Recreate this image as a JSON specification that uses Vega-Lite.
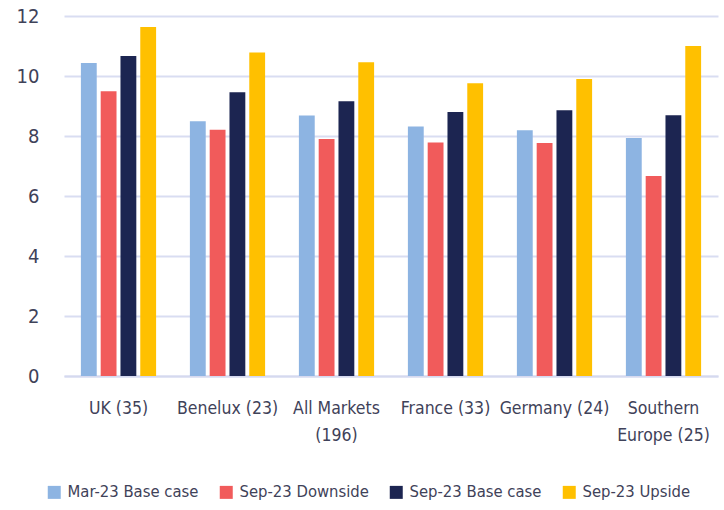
{
  "$schema": "https://vega.github.io/schema/vega-lite/v6.json",
  "width": 654,
  "height": 360,
  "autosize": {"type": "none"},
  "padding": {"left": 64, "top": 16, "right": 6, "bottom": 134},
  "background": "white",
  "config": {
    "view": {"stroke": null},
    "font": "Liberation Sans Narrow, DejaVu Sans Condensed, sans-serif"
  },
  "data": {
    "values": [
      {"region": "UK (35)", "series": "Mar-23 Base case", "value": 10.43},
      {"region": "UK (35)", "series": "Sep-23 Downside", "value": 9.49},
      {"region": "UK (35)", "series": "Sep-23 Base case", "value": 10.67},
      {"region": "UK (35)", "series": "Sep-23 Upside", "value": 11.63},
      {"region": "Benelux (23)", "series": "Mar-23 Base case", "value": 8.49},
      {"region": "Benelux (23)", "series": "Sep-23 Downside", "value": 8.21},
      {"region": "Benelux (23)", "series": "Sep-23 Base case", "value": 9.46},
      {"region": "Benelux (23)", "series": "Sep-23 Upside", "value": 10.78},
      {"region": "All Markets (196)", "series": "Mar-23 Base case", "value": 8.68},
      {"region": "All Markets (196)", "series": "Sep-23 Downside", "value": 7.9},
      {"region": "All Markets (196)", "series": "Sep-23 Base case", "value": 9.16},
      {"region": "All Markets (196)", "series": "Sep-23 Upside", "value": 10.46},
      {"region": "France (33)", "series": "Mar-23 Base case", "value": 8.32},
      {"region": "France (33)", "series": "Sep-23 Downside", "value": 7.78},
      {"region": "France (33)", "series": "Sep-23 Base case", "value": 8.8},
      {"region": "France (33)", "series": "Sep-23 Upside", "value": 9.76},
      {"region": "Germany (24)", "series": "Mar-23 Base case", "value": 8.19},
      {"region": "Germany (24)", "series": "Sep-23 Downside", "value": 7.77},
      {"region": "Germany (24)", "series": "Sep-23 Base case", "value": 8.86},
      {"region": "Germany (24)", "series": "Sep-23 Upside", "value": 9.9},
      {"region": "Southern Europe (25)", "series": "Mar-23 Base case", "value": 7.93},
      {"region": "Southern Europe (25)", "series": "Sep-23 Downside", "value": 6.67},
      {"region": "Southern Europe (25)", "series": "Sep-23 Base case", "value": 8.69},
      {"region": "Southern Europe (25)", "series": "Sep-23 Upside", "value": 11.0}
    ]
  },
  "mark": {"type": "bar"},
  "encoding": {
    "x": {
      "field": "region",
      "type": "nominal",
      "sort": null,
      "scale": {"paddingInner": 0.31, "paddingOuter": 0.155},
      "axis": {
        "title": null,
        "labelAngle": 0,
        "labelFontSize": 17.5,
        "labelColor": "#3f4259",
        "labelPadding": 23,
        "labelLineHeight": 27,
        "ticks": false,
        "domainColor": "#d5d9ef",
        "domainWidth": 2,
        "labelExpr": "datum.value == 'All Markets (196)' ? ['All Markets', '(196)'] : datum.value == 'Southern Europe (25)' ? ['Southern', 'Europe (25)'] : datum.value"
      }
    },
    "xOffset": {
      "field": "series",
      "type": "nominal",
      "sort": ["Mar-23 Base case", "Sep-23 Downside", "Sep-23 Base case", "Sep-23 Upside"],
      "scale": {"paddingInner": 0.2}
    },
    "y": {
      "field": "value",
      "type": "quantitative",
      "scale": {"domain": [0, 12]},
      "axis": {
        "title": null,
        "values": [0, 2, 4, 6, 8, 10, 12],
        "domain": false,
        "ticks": false,
        "labelPadding": 25,
        "labelFontSize": 20,
        "labelColor": "#3f4259",
        "gridColor": "#d9ddf2",
        "gridWidth": 2
      }
    },
    "color": {
      "field": "series",
      "type": "nominal",
      "sort": ["Mar-23 Base case", "Sep-23 Downside", "Sep-23 Base case", "Sep-23 Upside"],
      "scale": {
        "domain": ["Mar-23 Base case", "Sep-23 Downside", "Sep-23 Base case", "Sep-23 Upside"],
        "range": ["#8db4e2", "#f15b5b", "#1c2551", "#ffc000"]
      },
      "legend": {
        "title": null,
        "orient": "none",
        "direction": "horizontal",
        "legendX": -18,
        "legendY": 468,
        "symbolType": "square",
        "symbolSize": 169,
        "symbolStrokeWidth": 0,
        "labelFontSize": 16.5,
        "labelColor": "#3f4259",
        "labelOffset": 5,
        "columnPadding": 19
      }
    }
  }
}
